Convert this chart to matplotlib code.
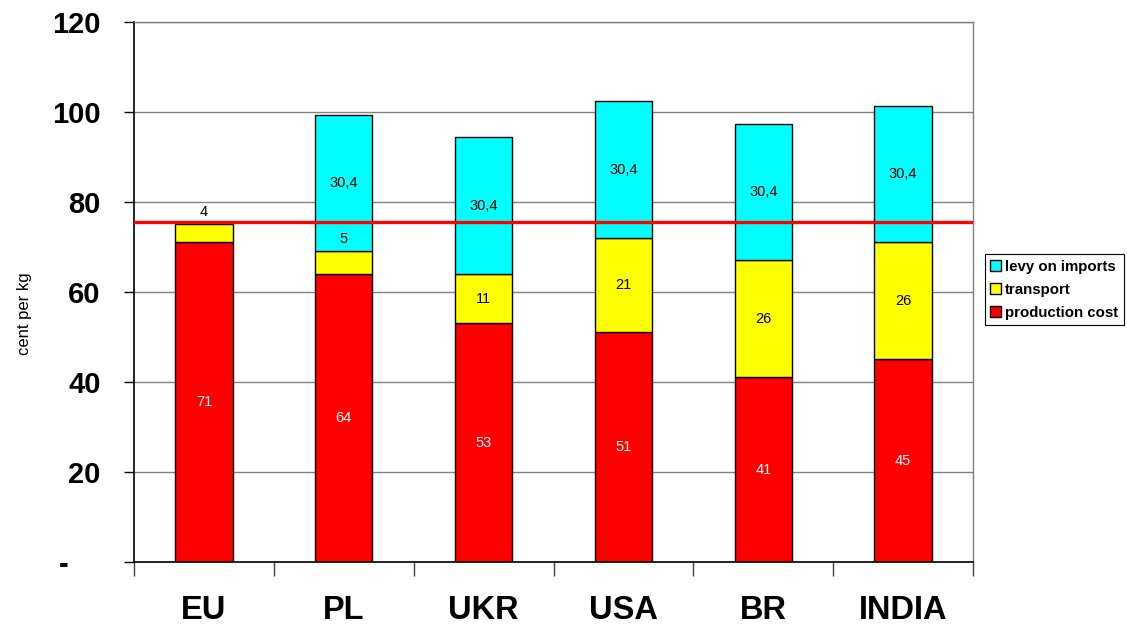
import matplotlib
matplotlib.use("Agg")
import matplotlib.pyplot as plt
from matplotlib.patches import Patch
from matplotlib import font_manager

categories = ["EU", "PL", "UKR", "USA", "BR", "INDIA"]
production_cost = [71, 64, 53, 51, 41, 45]
transport = [4, 5, 11, 21, 26, 26]
levy_on_imports = [0, 30.4, 30.4, 30.4, 30.4, 30.4]
levy_labels = ["", "30,4", "30,4", "30,4", "30,4", "30,4"]
threshold = 75.5
y_ticks = [0, 20, 40, 60, 80, 100, 120]
y_tick_labels = ["-    ", "20", "40", "60", "80", "100", "120"]

available = {f.name for f in font_manager.fontManager.ttflist}
base_font = "Liberation Sans" if "Liberation Sans" in available else "DejaVu Sans"
narrow_font = "Liberation Sans Narrow" if "Liberation Sans Narrow" in available else base_font
plt.rcParams["font.family"] = [base_font, "DejaVu Sans"]

fig = plt.figure(figsize=(11.27, 6.28), dpi=100)
ax = fig.add_axes([0.1189, 0.1051, 0.8634 - 0.1189, 0.965 - 0.1051])

x = list(range(len(categories)))
width = 0.41
c_red, c_yel, c_cyan = "#FF0000", "#FFFF00", "#00FFFF"

ax.bar(x, production_cost, width, color=c_red, edgecolor="black", linewidth=1, zorder=2)
ax.bar(x, transport, width, bottom=production_cost, color=c_yel, edgecolor="black", linewidth=1, zorder=2)
bottoms2 = [p + t for p, t in zip(production_cost, transport)]
for xi, lv, b in zip(x, levy_on_imports, bottoms2):
    if lv > 0:
        ax.bar(xi, lv, width, bottom=b, color=c_cyan, edgecolor="black", linewidth=1, zorder=2)

# segment labels
lab_fs = 10.5
for xi, p, t, lv, lvl, b in zip(x, production_cost, transport, levy_on_imports, levy_labels, bottoms2):
    ax.text(xi, p / 2, f"{p}", ha="center", va="center", fontsize=lab_fs, color="white", zorder=5)
    if t < 6:
        ax.text(xi, b + 2.8, f"{t}", ha="center", va="center", fontsize=lab_fs, color="black", zorder=5)
    else:
        ax.text(xi, p + t / 2, f"{t}", ha="center", va="center", fontsize=lab_fs, color="black", zorder=5)
    if lv > 0:
        ax.text(xi, b + lv / 2, lvl, ha="center", va="center", fontsize=lab_fs, color="black", zorder=5)

ax.axhline(threshold, color="#FF0000", linewidth=2.4, zorder=4)

ax.set_xlim(-0.5, len(categories) - 0.5)
ax.set_ylim(0, 120)
ax.set_yticks(y_ticks)
ax.set_yticklabels(y_tick_labels, fontsize=21, fontweight="bold")
ax.yaxis.grid(True, color="#808080", linewidth=1, zorder=0)
ax.set_axisbelow(True)

ax.set_xticks([i - 0.5 for i in range(len(categories) + 1)])
ax.set_xticklabels([])
ax.tick_params(axis="x", direction="out", length=10, width=1, color="#404040")
ax.tick_params(axis="y", direction="out", length=7, width=1, pad=17)
for xi, name in zip(x, categories):
    ax.text(xi, -7.4, name, ha="center", va="top", fontsize=23.5, fontweight="bold",
            family=[narrow_font, "DejaVu Sans"], transform=ax.transData, clip_on=False)

for s in ["left", "bottom"]:
    ax.spines[s].set_color("black")
    ax.spines[s].set_linewidth(1.2)
for s in ["top", "right"]:
    ax.spines[s].set_color("#808080")
    ax.spines[s].set_linewidth(1)

fig.text(0.022, 0.5, "cent per kg", rotation=90, ha="center", va="center", fontsize=12)

handles = [Patch(facecolor=c_cyan, edgecolor="black"),
           Patch(facecolor=c_yel, edgecolor="black"),
           Patch(facecolor=c_red, edgecolor="black")]
leg = fig.legend(handles, ["levy on imports", "transport", "production cost"],
                 loc="upper left", bbox_to_anchor=(0.874, 0.595), fancybox=False,
                 edgecolor="black", framealpha=1, prop={"weight": "bold", "size": 10.8},
                 handlelength=0.7, handleheight=0.7, handletextpad=0.3,
                 borderpad=0.35, labelspacing=0.6, borderaxespad=0)
leg.get_frame().set_linewidth(0.8)

fig.savefig("out.png", dpi=100)
